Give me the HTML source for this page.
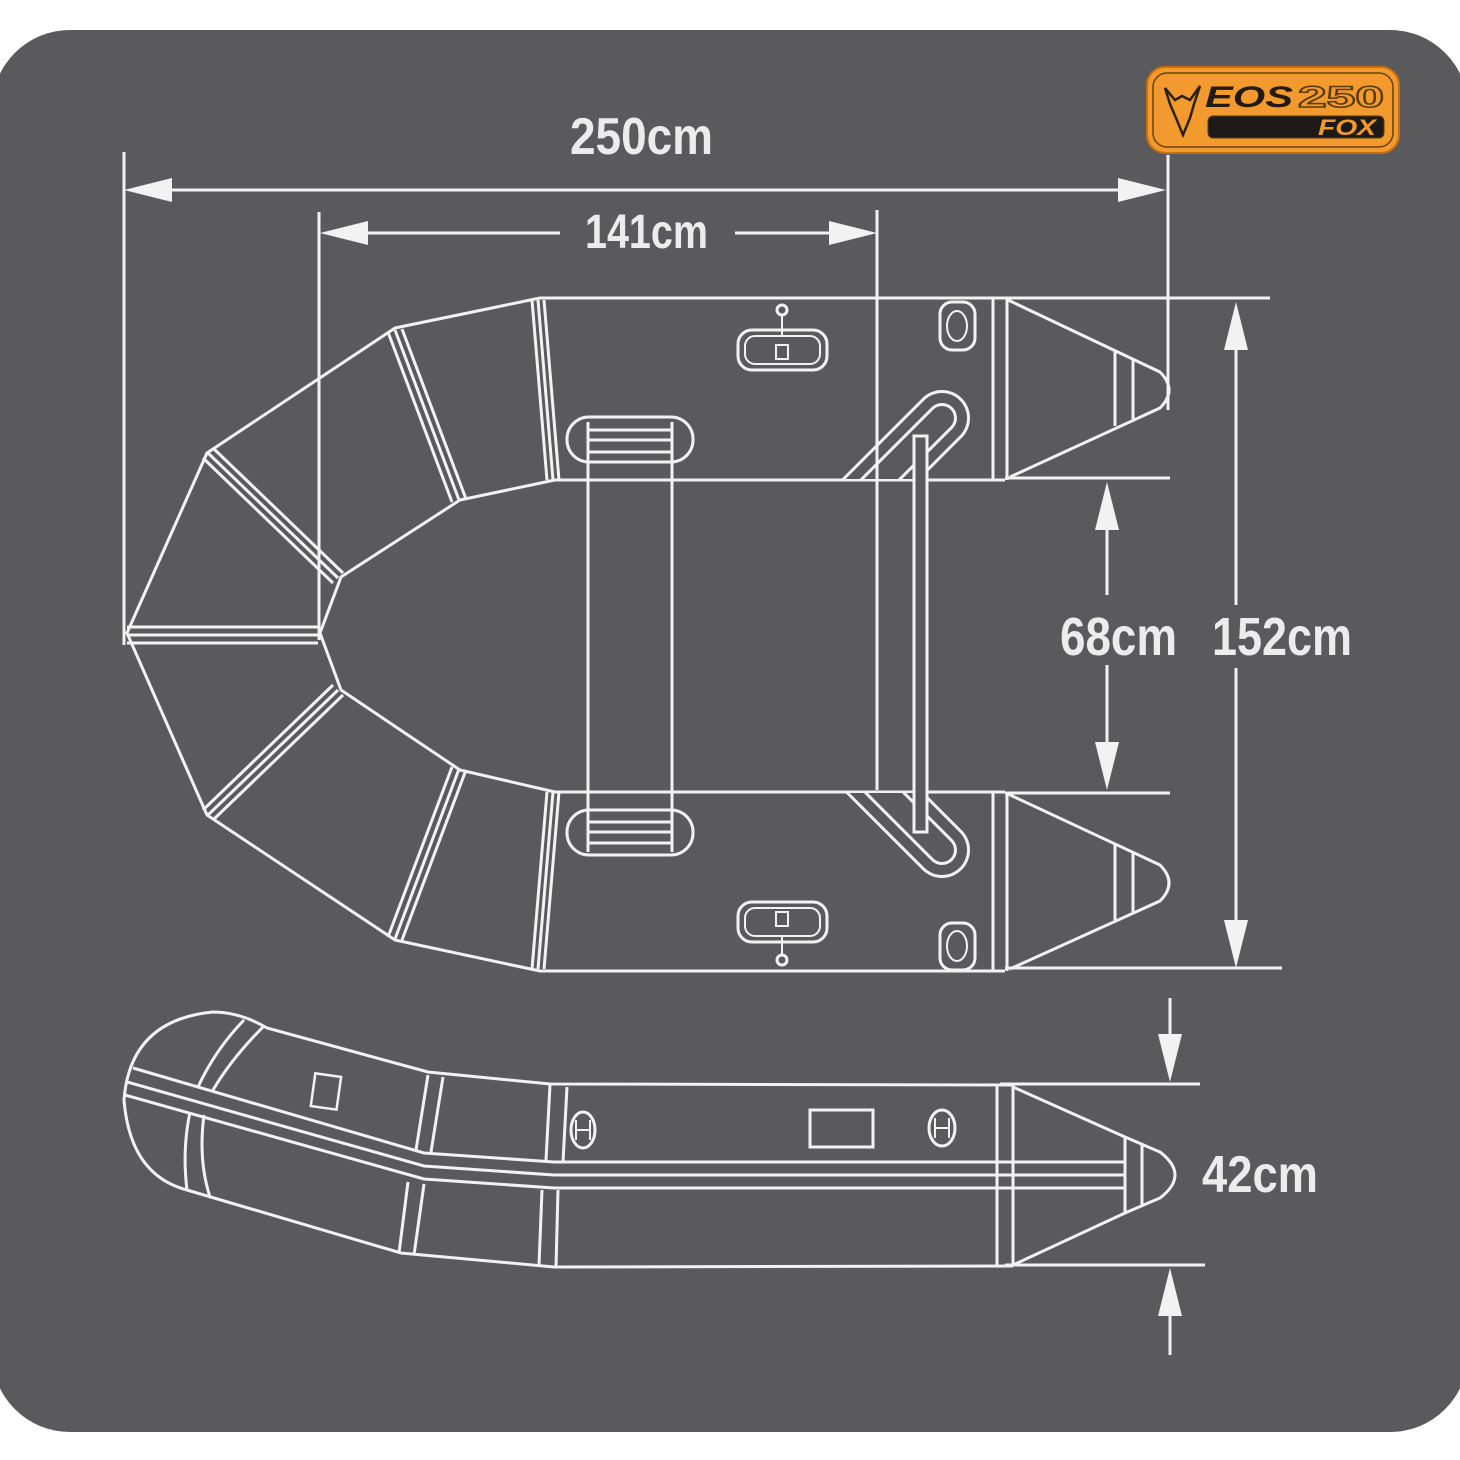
<!DOCTYPE html>
<html><head><meta charset="utf-8"><style>
html,body{margin:0;padding:0;background:#fff;width:1460px;height:1460px;overflow:hidden}
svg{display:block}
text{font-family:"Liberation Sans Narrow","Liberation Sans",sans-serif;font-weight:bold;fill:#ececec}
</style></head><body>
<svg width="1460" height="1460" viewBox="0 0 1460 1460" xmlns="http://www.w3.org/2000/svg">
<defs>
<clipPath id="ct"><rect x="800" y="360" width="200" height="119"/></clipPath>
<clipPath id="cb"><rect x="800" y="793" width="200" height="120"/></clipPath>
</defs>
<rect x="-8" y="30" width="1476" height="1402" rx="78" fill="#5a5a5c"/>
<g fill="none" stroke="#f2f2f2" stroke-width="3" stroke-linejoin="round">
<!-- top view outline -->
<path d="M1005,298 L540,298 L395,328 L207,453 L127,633 L207,815 L395,940 L540,971 L1005,971"/>
<path d="M1005,480 L555,480 L460,500 L341,577 L320,633 L341,690 L460,770 L555,792 L1005,792"/>
<!-- seams triple -->
<path d="M532,300 L547,480 M538,300 L553,480 M544,300 L559,480"/>
<path d="M532,969 L547,792 M538,969 L553,792 M544,969 L559,792"/>
<path d="M388,332 L452,502 M395,330 L459,500 M402,329 L466,499"/>
<path d="M388,937 L452,767 M395,939 L459,769 M402,940 L466,770"/>
<path d="M203,458 L333,583 M208,453 L338,578 M213,448 L343,573"/>
<path d="M203,810 L333,685 M208,815 L338,690 M213,820 L343,695"/>
<path d="M127,627 L318,627 M127,635 L318,635 M127,643 L318,643"/>
<!-- transom -->
<path d="M993,298 V480 M1007,298 V480 M993,792 V971 M1007,792 V971"/>
<!-- cones -->
<path d="M1008,300 L1160,372 Q1178,390 1160,408 L1010,477"/>
<path d="M1115,352 V426 M1133,360 V419"/>
<path d="M1008,794 L1160,865 Q1178,883 1160,901 L1010,969"/>
<path d="M1115,845 V920 M1133,853 V912"/>
<!-- left thwart -->
<rect x="567" y="417" width="126" height="45" rx="22"/>
<rect x="567" y="810" width="126" height="45" rx="22"/>
<path d="M588,462 V810 M672,462 V810 M588,430 H672 M588,440 H672 M588,452 H672 M588,422 V462 M672,422 V462"/>
<path d="M588,810 V852 M672,810 V852 M588,822 H672 M588,832 H672 M588,843 H672"/>
</g>
<!-- handles top -->
<g clip-path="url(#ct)" fill="none" stroke-linecap="round">
<line x1="942" y1="418" x2="842" y2="518" stroke="#f2f2f2" stroke-width="56"/>
<line x1="942" y1="418" x2="842" y2="518" stroke="#5a5a5c" stroke-width="50"/>
<line x1="942" y1="418" x2="842" y2="518" stroke="#f2f2f2" stroke-width="30"/>
<line x1="942" y1="418" x2="842" y2="518" stroke="#5a5a5c" stroke-width="24"/>
</g>
<g clip-path="url(#cb)" fill="none" stroke-linecap="round">
<line x1="942" y1="850" x2="842" y2="750" stroke="#f2f2f2" stroke-width="56"/>
<line x1="942" y1="850" x2="842" y2="750" stroke="#5a5a5c" stroke-width="50"/>
<line x1="942" y1="850" x2="842" y2="750" stroke="#f2f2f2" stroke-width="30"/>
<line x1="942" y1="850" x2="842" y2="750" stroke="#5a5a5c" stroke-width="24"/>
</g>
<g fill="none" stroke="#f2f2f2" stroke-width="3">
<rect x="914" y="436" width="13" height="396" fill="#5a5a5c"/>
<line x1="877" y1="210" x2="877" y2="790"/>
<!-- oarlocks -->
<rect x="738" y="330" width="89" height="40" rx="14"/>
<rect x="745" y="336" width="75" height="28" rx="10" stroke-width="2"/>
<path d="M782,315 V336 M776,345 h12 v14 h-12z" stroke-width="2"/>
<circle cx="782" cy="310" r="5"/>
<rect x="738" y="902" width="89" height="40" rx="14"/>
<rect x="745" y="908" width="75" height="28" rx="10" stroke-width="2"/>
<path d="M782,936 V955 M776,912 h12 v14 h-12z" stroke-width="2"/>
<circle cx="782" cy="960" r="5"/>
<!-- valves -->
<rect x="940" y="302" width="35" height="48" rx="12"/>
<ellipse cx="957" cy="326" rx="10" ry="15" stroke-width="2"/>
<rect x="940" y="923" width="35" height="47" rx="12"/>
<ellipse cx="957" cy="946" rx="10" ry="15" stroke-width="2"/>

<!-- side view -->
<path d="M1013,1085 L550,1084 L428,1072 L267,1028 Q240,1012 213,1012 Q130,1020 124,1100 Q130,1175 187,1190 L401,1253 L554,1267 L1013,1266"/>
<path d="M133,1068 L424,1153 L554,1162 L1125,1162 M127,1082 L424,1166 L554,1175 L1125,1175 M125,1095 L424,1179 L554,1188 L1125,1188"/>
<path d="M428,1075 L416,1150 M443,1077 L431,1152 M408,1182 L399,1253 M424,1184 L414,1255"/>
<path d="M550,1085 L546,1160 M567,1087 L563,1162 M542,1190 L539,1265 M558,1190 L556,1267"/>
<path d="M244,1020 Q215,1050 198,1087 M263,1027 Q232,1058 213,1090 M190,1112 Q182,1150 187,1190 M204,1115 Q198,1160 210,1197"/>
<rect x="313" y="1075" width="26" height="33" transform="rotate(8 326 1091)" stroke-width="2.5"/>
<ellipse cx="583" cy="1130" rx="12" ry="18"/>
<path d="M576,1120 v20 M590,1120 v20 M576,1130 h14" stroke-width="2"/>
<rect x="810" y="1110" width="63" height="37"/>
<ellipse cx="942" cy="1128" rx="13" ry="18"/>
<path d="M935,1118 v20 M949,1118 v20 M935,1128 h14" stroke-width="2"/>
<path d="M997,1085 V1266 M1013,1085 V1266"/>
<path d="M1013,1087 L1125,1137 L1160,1152 Q1190,1175 1160,1198 L1125,1213 L1013,1265"/>
<path d="M1125,1137 V1213 M1142,1145 V1206"/>

<!-- dimension lines -->
<path d="M124,152 V645 M1168,155 V410 M319,212 V640"/>
<path d="M165,190 H1125"/>
<path d="M360,233 H560 M735,233 H836"/>
<path d="M1005,298 H1270 M1005,968 H1282 M1005,478 H1170 M1005,793 H1170"/>
<path d="M1236,345 V605 M1236,668 V925"/>
<path d="M1107,525 V595 M1107,665 V748"/>
<path d="M1000,1084 H1200 M1005,1265 H1205 M1170,998 V1040 M1170,1310 V1355"/>
</g>
<g fill="#f2f2f2">
<path d="M124,190 L172,178 L172,202Z M1166,190 L1118,178 L1118,202Z"/>
<path d="M320,233 L368,221 L368,245Z M877,233 L829,221 L829,245Z"/>
<path d="M1236,302 L1224,350 L1248,350Z M1236,968 L1224,920 L1248,920Z"/>
<path d="M1107,482 L1095,530 L1119,530Z M1107,790 L1095,742 L1119,742Z"/>
<path d="M1170,1082 L1158,1034 L1182,1034Z M1170,1268 L1158,1316 L1182,1316Z"/>
</g>
<text x="570" y="154" font-size="52" textLength="143" lengthAdjust="spacingAndGlyphs">250cm</text>
<text x="585" y="248" font-size="48" textLength="123" lengthAdjust="spacingAndGlyphs">141cm</text>
<text x="1060" y="655" font-size="54" textLength="117" lengthAdjust="spacingAndGlyphs">68cm</text>
<text x="1212" y="655" font-size="54" textLength="140" lengthAdjust="spacingAndGlyphs">152cm</text>
<text x="1202" y="1192" font-size="52" textLength="116" lengthAdjust="spacingAndGlyphs">42cm</text>

<!-- logo -->
<rect x="1147" y="67" width="252" height="86" rx="18" fill="#f29a2e" stroke="#c86e10" stroke-width="2"/>
<rect x="1153" y="73" width="240" height="74" rx="14" fill="none" stroke="#6a4010" stroke-width="1.5"/>
<path d="M1165,88 L1175,100 L1182,96 L1190,100 L1200,86 L1194,104 L1190,118 L1183,135 L1176,118 L1170,104Z" fill="none" stroke="#2a2016" stroke-width="2.5"/>
<text x="1205" y="107" font-size="30" style="fill:#231a12;font-style:italic" textLength="88" lengthAdjust="spacingAndGlyphs">EOS</text>
<text x="1298" y="107" font-size="30" style="fill:none;stroke:#5a3a10;stroke-width:1.5" textLength="86" lengthAdjust="spacingAndGlyphs">250</text>
<rect x="1208" y="116" width="176" height="22" rx="5" fill="#1e1a18" stroke="#5a3a10"/>
<text x="1318" y="135" font-size="22" style="fill:#f29a2e;font-style:italic" textLength="58" lengthAdjust="spacingAndGlyphs">FOX</text>
</svg>
</body></html>
